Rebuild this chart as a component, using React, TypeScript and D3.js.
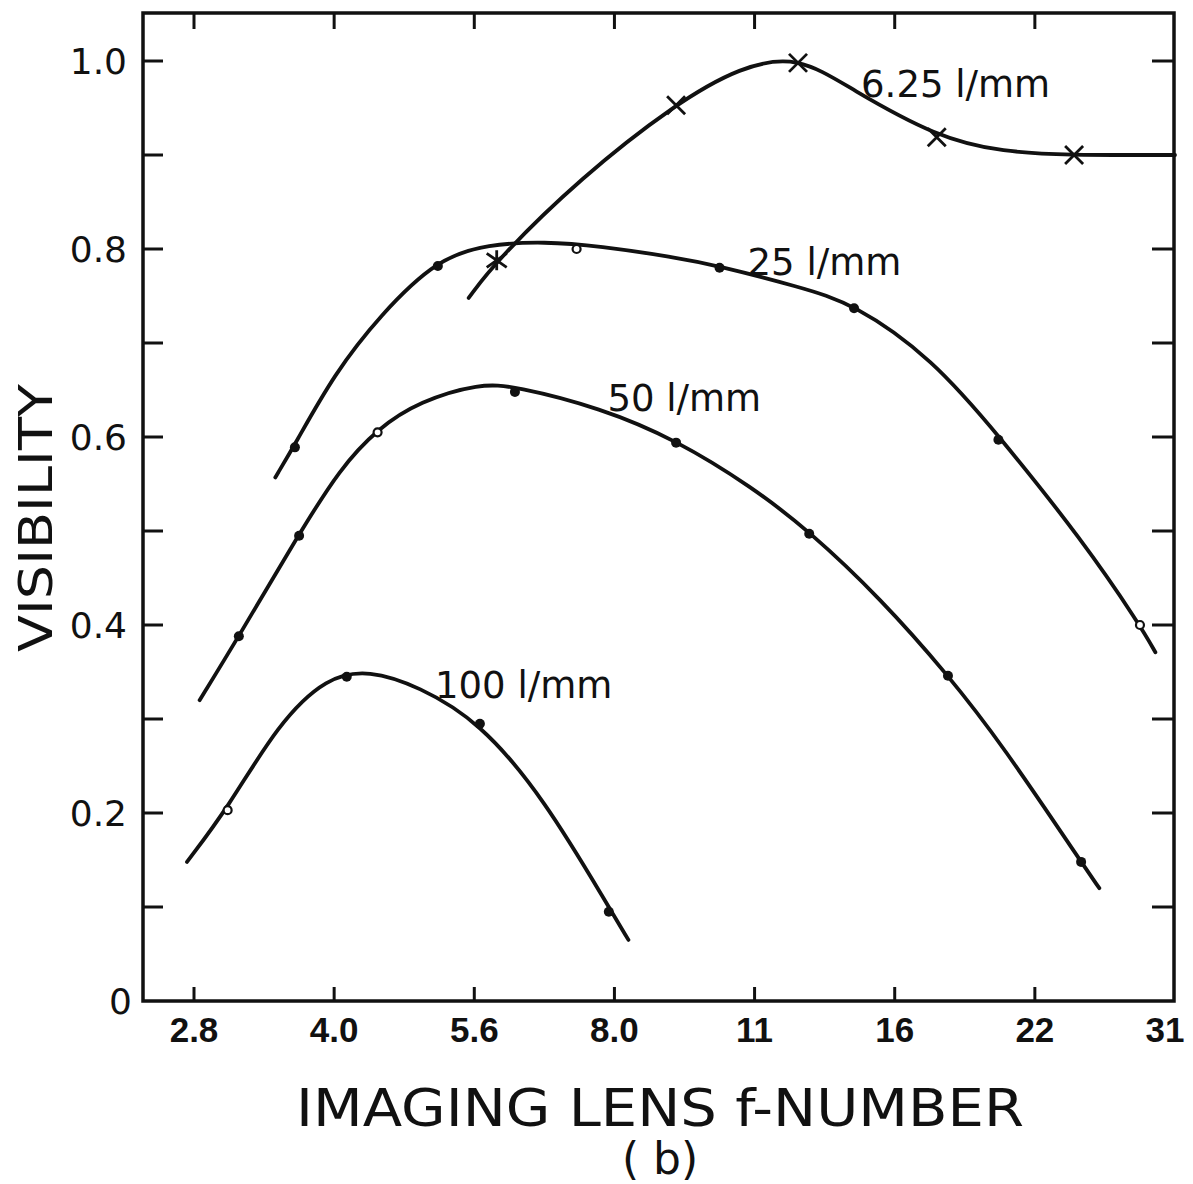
import React, { useEffect, useRef } from 'react';
import * as d3 from 'd3';

// f-number stops, evenly spaced on the axis (x values below are in stop units, 0 = 2.8)
const fStops = ['2.8', '4.0', '5.6', '8.0', '11', '16', '22', '31'];
const yTicks = [0, 0.1, 0.2, 0.3, 0.4, 0.5, 0.6, 0.7, 0.8, 0.9, 1.0];
const yLabels = { 0: '0', 0.2: '0.2', 0.4: '0.4', 0.6: '0.6', 0.8: '0.8', 1: '1.0' };

// fitted curves: [stop, visibility]
const curve625 = [[1.96, 0.748], [2.16, 0.788], [2.76, 0.876], [3.44, 0.955], [3.9, 0.994], [4.31, 1.006], [4.69, 0.97], [5.3, 0.919], [5.77, 0.903], [6.28, 0.9], [6.7, 0.9], [7.0, 0.9]];
const curve25 = [[0.58, 0.557], [0.72, 0.592], [1.0, 0.667], [1.33, 0.73], [1.74, 0.79], [2.1, 0.805], [2.5, 0.808], [2.9, 0.803], [3.4, 0.792], [3.75, 0.782], [4.31, 0.76], [4.71, 0.742], [5.27, 0.683], [5.74, 0.602], [6.34, 0.49], [6.75, 0.4], [6.86, 0.371]];
const curve50 = [[0.04, 0.32], [0.32, 0.388], [0.75, 0.497], [1.04, 0.566], [1.31, 0.609], [1.61, 0.638], [2.04, 0.657], [2.29, 0.654], [2.9, 0.631], [3.44, 0.597], [3.98, 0.547], [4.39, 0.5], [4.9, 0.428], [5.38, 0.347], [5.77, 0.272], [6.33, 0.148], [6.46, 0.12]];
const curve100 = [[-0.05, 0.148], [0.24, 0.205], [0.6, 0.295], [0.95, 0.345], [1.25, 0.352], [1.6, 0.335], [2.04, 0.297], [2.5, 0.215], [2.96, 0.1], [3.1, 0.065]];

// measured points: [stop, visibility, marker]
const points625 = [[2.16, 0.788, 'star'], [3.44, 0.953, 'x'], [4.31, 0.998, 'x'], [5.3, 0.919, 'x'], [6.28, 0.9, 'x']];
const points25 = [[0.72, 0.589, 'dot'], [1.74, 0.782, 'dot'], [2.73, 0.8, 'open'], [3.75, 0.78, 'dot'], [4.71, 0.737, 'dot'], [5.74, 0.597, 'dot'], [6.75, 0.4, 'open']];
const points50 = [[0.32, 0.388, 'dot'], [0.75, 0.495, 'dot'], [1.31, 0.605, 'open'], [2.29, 0.648, 'dot'], [3.44, 0.594, 'dot'], [4.39, 0.497, 'dot'], [5.38, 0.346, 'dot'], [6.33, 0.148, 'dot']];
const points100 = [[0.24, 0.203, 'open'], [1.09, 0.345, 'dot'], [2.04, 0.295, 'dot'], [2.96, 0.095, 'dot']];

const seriesLabels = [
  { text: '6.25 l/mm', s: 4.76, v: 0.962 },
  { text: '25 l/mm', s: 3.95, v: 0.772 },
  { text: '50 l/mm', s: 2.95, v: 0.628 },
  { text: '100 l/mm', s: 1.72, v: 0.322 },
];

const App = () => {
  const ref = useRef(null);

  useEffect(() => {
    const width = 1193;
    const height = 1184;
    const left = 143, right = 1174, top = 13, bottom = 1001;

    const svg = d3.select(ref.current);
    svg.selectAll('*').remove();
    svg.attr('width', width).attr('height', height).style('background', '#fff');

    const x = d3.scaleLinear().domain([0, 7]).range([194, 1175]);
    const y = d3.scaleLinear().domain([0, 1]).range([1001, 61]);

    const ink = '#111';
    const font = '"DejaVu Sans", sans-serif';

    // frame
    svg.append('rect')
      .attr('x', left).attr('y', top)
      .attr('width', right - left).attr('height', bottom - top)
      .attr('fill', 'none').attr('stroke', ink).attr('stroke-width', 3.5);

    // x ticks top and bottom, inside
    fStops.forEach((lab, i) => {
      if (i < fStops.length - 1) {
        svg.append('line').attr('x1', x(i)).attr('x2', x(i))
          .attr('y1', bottom).attr('y2', bottom - 14)
          .attr('stroke', ink).attr('stroke-width', 3);
        svg.append('line').attr('x1', x(i)).attr('x2', x(i))
          .attr('y1', top).attr('y2', top + 16)
          .attr('stroke', ink).attr('stroke-width', 3);
      }
      svg.append('text')
        .attr('x', i === fStops.length - 1 ? x(i) - 10 : x(i))
        .attr('y', 1042)
        .attr('text-anchor', 'middle')
        .attr('font-family', '"Liberation Sans", sans-serif')
        .attr('font-weight', 'bold')
        .attr('font-size', 35)
        .attr('fill', ink)
        .text(lab);
    });

    // y ticks left and right, inside
    yTicks.forEach(t => {
      if (t === 0) return;
      svg.append('line').attr('x1', left).attr('x2', left + 20)
        .attr('y1', y(t)).attr('y2', y(t))
        .attr('stroke', ink).attr('stroke-width', 3);
      svg.append('line').attr('x1', right - 22).attr('x2', right)
        .attr('y1', y(t)).attr('y2', y(t))
        .attr('stroke', ink).attr('stroke-width', 3);
    });
    Object.entries(yLabels).forEach(([k, lab]) => {
      svg.append('text')
        .attr('x', k === '0' ? 132 : 127)
        .attr('y', y(+k) + 13)
        .attr('text-anchor', 'end')
        .attr('font-family', font)
        .attr('font-size', 36)
        .attr('fill', ink)
        .text(lab);
    });

    // curves
    const line = d3.line()
      .x(d => x(d[0]))
      .y(d => y(d[1]))
      .curve(d3.curveBasis);

    [curve625, curve25, curve50, curve100].forEach(c => {
      svg.append('path')
        .attr('d', line(c))
        .attr('fill', 'none')
        .attr('stroke', ink)
        .attr('stroke-width', 3.8)
        .attr('stroke-linecap', 'round');
    });

    // markers
    const drawPoint = ([s, v, kind]) => {
      const cx = x(s), cy = y(v);
      if (kind === 'dot') {
        svg.append('circle').attr('cx', cx).attr('cy', cy).attr('r', 5).attr('fill', ink);
      } else if (kind === 'open') {
        svg.append('circle').attr('cx', cx).attr('cy', cy).attr('r', 4)
          .attr('fill', '#fff').attr('stroke', ink).attr('stroke-width', 2.2);
      } else if (kind === 'x') {
        const r = 9;
        svg.append('path')
          .attr('d', `M${cx - r},${cy - r}L${cx + r},${cy + r}M${cx - r},${cy + r}L${cx + r},${cy - r}`)
          .attr('stroke', ink).attr('stroke-width', 2.8);
      } else {
        const r = 10;
        svg.append('path')
          .attr('d', `M${cx - r},${cy - r * 0.7}L${cx + r},${cy + r * 0.7}M${cx - r},${cy + r * 0.7}L${cx + r},${cy - r * 0.7}M${cx},${cy - r}L${cx},${cy + r}`)
          .attr('stroke', ink).attr('stroke-width', 2.8);
      }
    };
    [...points625, ...points25, ...points50, ...points100].forEach(drawPoint);

    // series labels
    seriesLabels.forEach(l => {
      svg.append('text')
        .attr('x', x(l.s)).attr('y', y(l.v))
        .attr('font-family', font)
        .attr('font-size', 37)
        .attr('fill', ink)
        .text(l.text);
    });

    // axis titles
    svg.append('text')
      .attr('transform', 'translate(52,518) rotate(-90)')
      .attr('text-anchor', 'middle')
      .attr('font-family', font)
      .attr('font-size', 46)
      .attr('textLength', 268)
      .attr('lengthAdjust', 'spacingAndGlyphs')
      .attr('fill', ink)
      .text('VISIBILITY');

    svg.append('text')
      .attr('x', 296).attr('y', 1126)
      .attr('font-family', font)
      .attr('font-size', 52)
      .attr('textLength', 728)
      .attr('lengthAdjust', 'spacingAndGlyphs')
      .attr('fill', ink)
      .text('IMAGING LENS f-NUMBER');

    svg.append('text')
      .attr('x', 660).attr('y', 1174)
      .attr('text-anchor', 'middle')
      .attr('font-family', font)
      .attr('font-size', 44)
      .attr('fill', ink)
      .text('( b)');
  }, []);

  return <svg ref={ref} style={{ display: 'block', position: 'absolute', left: 0, top: 0 }}></svg>;
};

export default App;
